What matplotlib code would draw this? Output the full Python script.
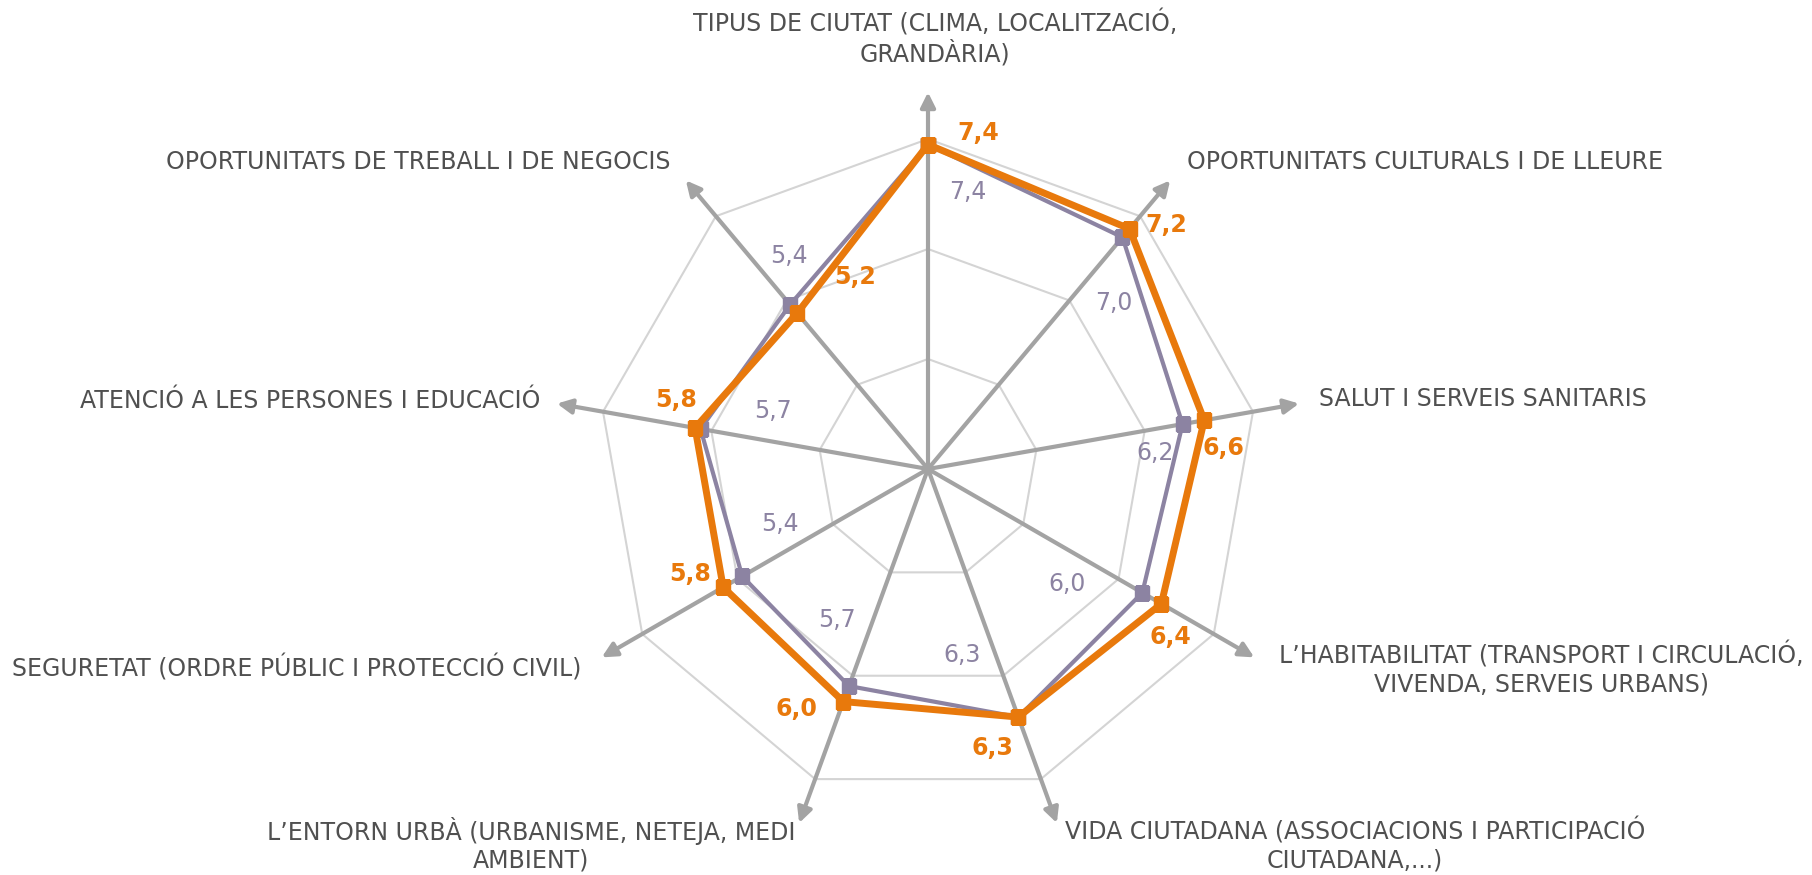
import numpy as np
import matplotlib
matplotlib.use("Agg")
import matplotlib.pyplot as plt

# data, clockwise from the top
categories = [
    "TIPUS DE CIUTAT (CLIMA, LOCALITZACIÓ,\nGRANDÀRIA)",
    "OPORTUNITATS CULTURALS I DE LLEURE",
    "SALUT I SERVEIS SANITARIS",
    "L\u2019HABITABILITAT (TRANSPORT I CIRCULACIÓ,\nVIVENDA, SERVEIS URBANS)",
    "VIDA CIUTADANA (ASSOCIACIONS I PARTICIPACIÓ\nCIUTADANA,...)",
    "L\u2019ENTORN URBÀ (URBANISME, NETEJA, MEDI\nAMBIENT)",
    "SEGURETAT (ORDRE PÚBLIC I PROTECCIÓ CIVIL)",
    "ATENCIÓ A LES PERSONES I EDUCACIÓ",
    "OPORTUNITATS DE TREBALL I DE NEGOCIS",
]
orange_vals = [7.4, 7.2, 6.6, 6.4, 6.3, 6.0, 5.8, 5.8, 5.2]
purple_vals = [7.4, 7.0, 6.2, 6.0, 6.3, 5.7, 5.4, 5.7, 5.4]
ring_vals = [3.5, 5.5, 7.5]
r_min, r_max = 1.5, 8.5

# styling
ORANGE = "#E8790C"
PURPLE = "#8C83A2"
AXIS_GRAY = "#A3A3A3"
RING_GRAY = "#D4D4D4"
TEXT_GRAY = "#505050"

W, H = 1812, 875
cx, cy = 928, 469          # chart centre in pixels (from top)
rad_px = 55 * (r_max - r_min)

# label offsets in pixels (x right, y up) from each marker
orange_off = [(50, 12), (37, 4), (19, -28), (9, -33), (-26, -31),
              (-47, -7), (-33, 13), (-19, 28), (58, 36)]
purple_off = [(40, -47), (-9, -66), (-28, -29), (-75, 9), (-56, 62),
              (-12, 66), (38, 52), (72, 18), (-1, 49)]

# category label positions in pixels (from top)
cat_pos = [(935, 38, "center"), (1187, 162, "left"), (1319, 399, "left"),
           (1541, 669, "center"), (1355, 845, "center"), (531, 845, "center"),
           (581, 668, "right"), (540, 401, "right"), (670, 162, "right")]

fig = plt.figure(figsize=(W / 100, H / 100), dpi=100)
ax = fig.add_axes([(cx - rad_px) / W, (H - cy - rad_px) / H,
                   2 * rad_px / W, 2 * rad_px / H], projection="polar")
ax.set_theta_zero_location("N")
ax.set_theta_direction(-1)
ax.set_ylim(r_min, r_max)
ax.axis("off")

n = len(categories)
theta = np.linspace(0, 2 * np.pi, n, endpoint=False)
theta_c = np.append(theta, theta[0])

for r in ring_vals:
    ax.plot(theta_c, [r] * (n + 1), color=RING_GRAY, lw=1.5, zorder=1)

for t in theta:
    ax.annotate("", xy=(t, 8.35), xytext=(t, r_min),
                arrowprops=dict(arrowstyle="-|>", color=AXIS_GRAY, lw=3,
                                mutation_scale=22, shrinkA=0, shrinkB=0),
                zorder=2)

ax.plot(theta_c, purple_vals + purple_vals[:1], color=PURPLE, lw=3,
        marker="s", ms=9.5, zorder=3)
ax.plot(theta_c, orange_vals + orange_vals[:1], color=ORANGE, lw=5,
        marker="s", ms=10.5, zorder=4)

for t, v, off in zip(theta, purple_vals, purple_off):
    ax.annotate(f"{v:.1f}".replace(".", ","), xy=(t, v), xytext=off,
                textcoords="offset pixels", ha="center", va="center",
                color=PURPLE, fontsize=17, zorder=5)
for t, v, off in zip(theta, orange_vals, orange_off):
    ax.annotate(f"{v:.1f}".replace(".", ","), xy=(t, v), xytext=off,
                textcoords="offset pixels", ha="center", va="center",
                color=ORANGE, fontsize=17, fontweight="bold", zorder=5)

for label, (x, y, ha) in zip(categories, cat_pos):
    fig.text(x / W, 1 - y / H, label, ha=ha, va="center", ma="center",
             color=TEXT_GRAY, fontsize=17, linespacing=1.2)

fig.savefig("out.png", dpi=100, facecolor="white")
